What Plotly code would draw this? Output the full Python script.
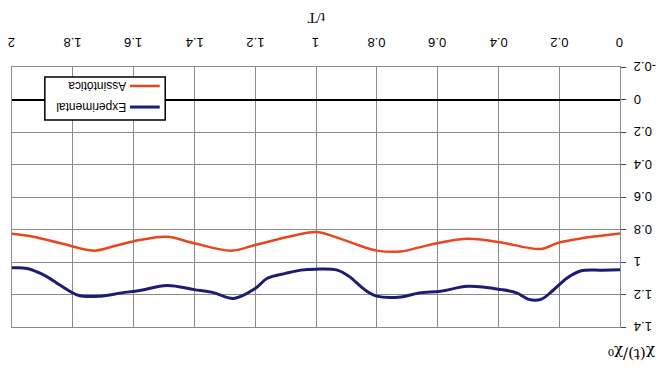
import plotly.graph_objects as go

# ---- data (t/T, chi(t)/chi0) ----
t_asym = [0, 0.07, 0.13, 0.2, 0.26, 0.31, 0.39, 0.5, 0.59, 0.66, 0.72, 0.8, 0.87, 0.93, 1.0,
          1.09, 1.2, 1.28, 1.4, 1.49, 1.58, 1.66, 1.73, 1.84, 1.93, 2.0]
y_asym = [0.824, 0.84, 0.855, 0.88, 0.92, 0.91, 0.88, 0.857, 0.88, 0.91, 0.935, 0.93, 0.89, 0.85, 0.815,
          0.845, 0.895, 0.93, 0.885, 0.845, 0.865, 0.9, 0.93, 0.885, 0.845, 0.826]

t_exp = [0, 0.06, 0.13, 0.175, 0.22, 0.26, 0.3, 0.34, 0.39, 0.5, 0.59, 0.66, 0.72, 0.8, 0.84,
         0.89, 0.93, 1.0, 1.05, 1.1, 1.16, 1.2, 1.27, 1.34, 1.4, 1.49, 1.58, 1.64, 1.71, 1.78,
         1.84, 1.89, 1.95, 2.0]
y_exp = [1.047, 1.05, 1.055, 1.10, 1.174, 1.23, 1.23, 1.19, 1.17, 1.15, 1.18, 1.19, 1.215, 1.21, 1.17,
         1.09, 1.05, 1.044, 1.05, 1.07, 1.10, 1.163, 1.224, 1.187, 1.17, 1.145, 1.175, 1.19, 1.21, 1.206,
         1.145, 1.085, 1.04, 1.036]

x_ticks = [0, 0.2, 0.4, 0.6, 0.8, 1, 1.2, 1.4, 1.6, 1.8, 2]
x_ticktext = ["0", "0.2", "0.4", "0.6", "0.8", "1", "1.2", "1.4", "1.6", "1.8", "2"]
y_ticks = [-0.2, 0, 0.2, 0.4, 0.6, 0.8, 1, 1.2, 1.4]
y_ticktext = ["-0.2", "0", "0.2", "0.4", "0.6", "0.8", "1", "1.2", "1.4"]

RED = "#E8461E"
NAVY = "#1C1C72"
TICKFONT = dict(family="Liberation Sans, Arial", size=13, color="black")

fig = go.Figure()
fig.add_trace(go.Scatter(x=t_exp, y=y_exp, mode="lines", name="Experimental",
                         line=dict(color=NAVY, width=3, shape="spline", smoothing=1.0)))
fig.add_trace(go.Scatter(x=t_asym, y=y_asym, mode="lines", name="Assintótica",
                         line=dict(color=RED, width=2.5, shape="spline", smoothing=1.0)))

fig.update_layout(
    width=660, height=367,
    margin=dict(l=12, r=40, t=67, b=40),
    paper_bgcolor="white", plot_bgcolor="white",
    showlegend=False,
    font=dict(family="Liberation Sans, Arial", size=12, color="black"),
    xaxis=dict(range=[2, 0], side="top", tickmode="array", tickvals=x_ticks,
               showticklabels=False, showgrid=True, gridcolor="#8a8a8a", gridwidth=1,
               showline=True, linecolor="#8a8a8a", mirror=True, zeroline=False, ticks=""),
    yaxis=dict(range=[1.4, -0.2], side="right", tickmode="array", tickvals=y_ticks,
               showticklabels=False, showgrid=True, gridcolor="#8a8a8a", gridwidth=1,
               showline=True, linecolor="#8a8a8a", mirror=True,
               zeroline=True, zerolinecolor="black", zerolinewidth=1.5,
               ticks="outside", ticklen=5, tickcolor="#444"),
)

# tick labels, drawn upside down
for v, txt in zip(x_ticks, x_ticktext):
    fig.add_annotation(x=v, y=1.092, xref="x", yref="paper", text=txt, showarrow=False,
                       textangle=180, xanchor="center", yanchor="middle", font=TICKFONT)
for v, txt in zip(y_ticks, y_ticktext):
    fig.add_annotation(x=1.0197, y=v, xref="paper", yref="y", text=txt, showarrow=False,
                       textangle=180, xanchor="left", yanchor="middle", font=TICKFONT)

# axis titles (upside down, like the reference)
fig.add_annotation(x=0.5, y=1.188, xref="paper", yref="paper", text="t/T", showarrow=False,
                   textangle=180, xanchor="center", yanchor="middle",
                   font=dict(family="Liberation Serif", size=15, color="black"))
fig.add_annotation(x=1.018, y=-0.104, xref="paper", yref="paper", text="χ(t)/χ₀",
                   showarrow=False, textangle=180, xanchor="center", yanchor="middle",
                   font=dict(family="DejaVu Serif", size=15, color="black"))

# legend box (upside down)
fig.add_shape(type="rect", xref="paper", yref="paper", x0=0.054, x1=0.252, y0=0.796, y1=0.962,
              line=dict(color="black", width=1.5), fillcolor="white", layer="above")
fig.add_shape(type="line", xref="paper", yref="paper", x0=0.194, x1=0.243, y0=0.927, y1=0.927,
              line=dict(color=RED, width=2.5), layer="above")
fig.add_shape(type="line", xref="paper", yref="paper", x0=0.194, x1=0.243, y0=0.846, y1=0.846,
              line=dict(color=NAVY, width=3), layer="above")
fig.add_annotation(x=0.191, y=0.927, xref="paper", yref="paper", text="Assintótica", showarrow=False,
                   textangle=180, xanchor="right", yanchor="middle", font=dict(size=12, color="black"))
fig.add_annotation(x=0.191, y=0.846, xref="paper", yref="paper", text="Experimental", showarrow=False,
                   textangle=180, xanchor="right", yanchor="middle", font=dict(size=12, color="black"))

fig.write_html("out.html")
